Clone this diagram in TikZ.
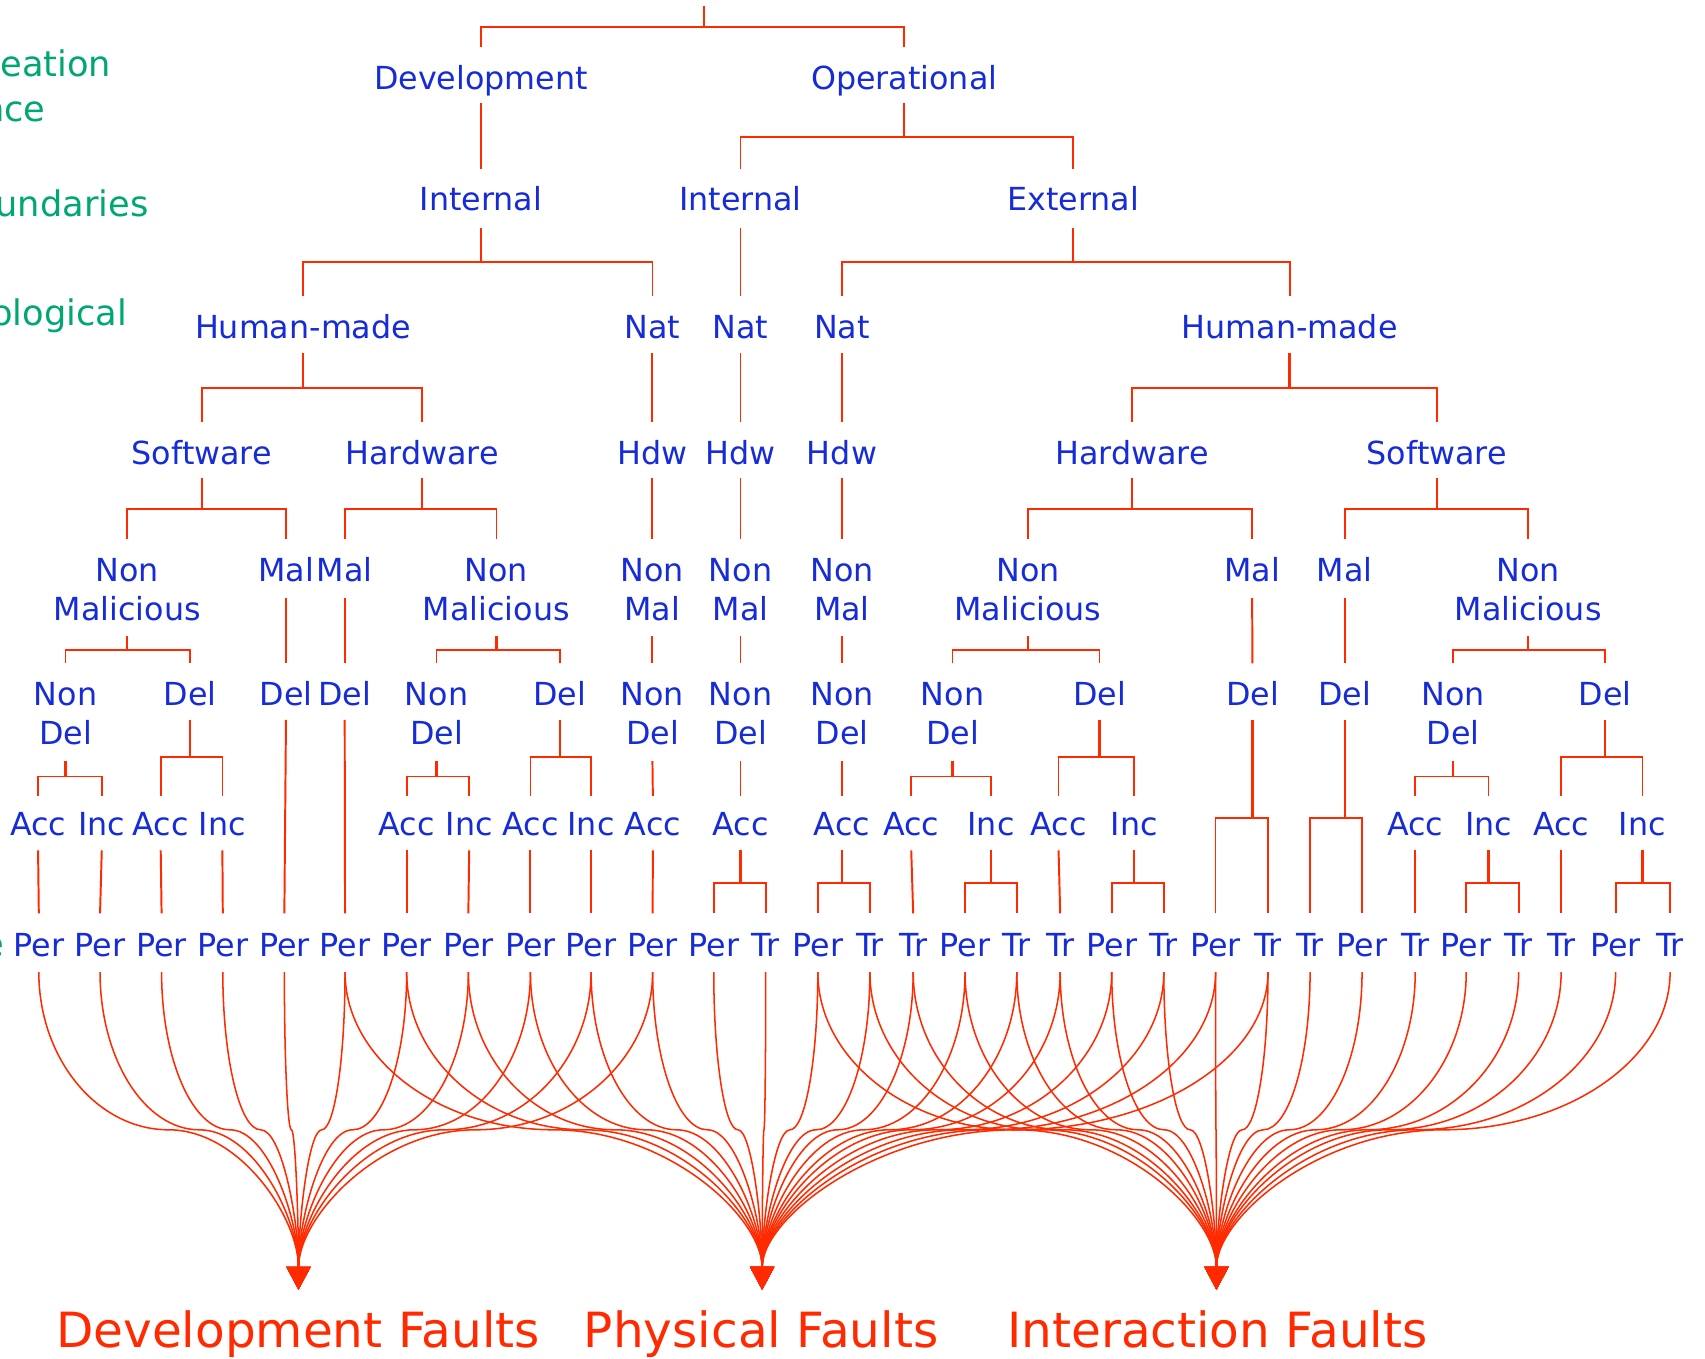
\documentclass[tikz,border=0pt]{standalone}
\usepackage{fontspec}
\setmainfont{DejaVu Sans}
\usetikzlibrary{calc,arrows.meta}
\definecolor{tblue}{RGB}{22,44,214}
\definecolor{tred}{RGB}{255,42,0}
\definecolor{tgreen}{RGB}{0,166,116}

% two stacked words, baseline on the first one
\newcommand\twoline[2]{\begin{tabular}[t]{@{}c@{}}#1\\#2\end{tabular}}
% parent, left child, right child, stem top y, bar y, branch bottom y
\newcommand\treefork[6]{%
  \draw[stem] (#1 |- 0,#4) -- (#1 |- 0,#5);
  \draw[branch] (#2 |- 0,#6) -- (#2 |- 0,#5) -- (#3 |- 0,#5) -- (#3 |- 0,#6);}
% parent, only child, top y, bottom y
\newcommand\treelink[4]{\draw[link] (#1 |- 0,#3) -- (#2 |- 0,#4);}
% leaf to fault class: vertical start, horizontal waist, vertical arrival
\newcommand\faultline[2]{%
  \draw[curve] let \p1=(#1 |- 0,894), \p2=(#2), \p3=(0,1039), \n2={(\x2-\x1)/2} in
    (\p1) .. controls (\x1,{\y1+0.55*(\y3-\y1)}) and ({\x1+0.45*\n2},\y3) .. ({\x1+\n2},\y3)
          .. controls ({\x1+1.55*\n2},\y3) and (\x2,{\y3+0.55*(\y2-\y3)}) .. (\p2);}

\begin{document}
\begin{tikzpicture}[x=0.5pt,y=-0.5pt,
  lab/.style={text=tblue,font=\fontsize{14.6}{18}\selectfont,anchor=base,inner sep=0pt},
  side/.style={text=tgreen,font=\fontsize{16.2}{19}\selectfont,anchor=base east,inner sep=0pt},
  result/.style={text=tred,font=\fontsize{22.3}{26}\selectfont,anchor=base,inner sep=0pt},
  stem/.style={draw=tred,line width=1.1pt},
  branch/.style={draw=tred,line width=0.8pt},
  link/.style={draw=tred,line width=0.9pt},
  curve/.style={draw=tred,line width=0.7pt,-{Triangle[length=10.5pt,width=11pt]}}]
\useasboundingbox (0,0) rectangle (1568,1249);
\clip (0,0) rectangle (1568,1249);
\fill[white] (0,0) rectangle (1568,1249);

% dimension captions on the left
\node[side] (c1) at (102.7,70.5) {eation};
\node[side] (c2) at (42.3,112) {nce};
\node[side] (c3) at (137,199) {undaries};
\node[side] (c4) at (117.4,299) {ological};
\node[side] (c5) at (4,880) {e};

% level 1
\coordinate (root) at (647.6,5.5);
\node[lab] (dev) at (442.4,82) {Development};
\node[lab] (op)  at (831.5,82) {Operational};
% level 2
\node[lab] (dint) at (442.4,194) {Internal};
\node[lab] (oint) at (681,194) {Internal};
\node[lab] (ext)  at (987,194) {External};
% level 3
\node[lab] (hm1)  at (278.7,311) {Human-made};
\node[lab] (nat1) at (600,311) {Nat};
\node[lab] (nat2) at (681,311) {Nat};
\node[lab] (nat3) at (774.3,311) {Nat};
\node[lab] (hm2)  at (1186,311) {Human-made};
% level 4
\node[lab] (sw1)  at (185.6,427) {Software};
\node[lab] (hw1)  at (388,427) {Hardware};
\node[lab] (hdw1) at (600,427) {Hdw};
\node[lab] (hdw2) at (681,427) {Hdw};
\node[lab] (hdw3) at (774.3,427) {Hdw};
\node[lab] (hw2)  at (1041,427) {Hardware};
\node[lab] (sw2)  at (1321.3,427) {Software};
% level 5
\node[lab] (nm1)  at (117,535) {\twoline{Non}{Malicious}};
\node[lab] (m1)   at (263,535) {Mal};
\node[lab] (m2)   at (317,535) {Mal};
\node[lab] (nm2)  at (456.5,535) {\twoline{Non}{Malicious}};
\node[lab] (nma1) at (600,535) {\twoline{Non}{Mal}};
\node[lab] (nma2) at (681,535) {\twoline{Non}{Mal}};
\node[lab] (nma3) at (774.3,535) {\twoline{Non}{Mal}};
\node[lab] (nm3)  at (945.4,535) {\twoline{Non}{Malicious}};
\node[lab] (m3)   at (1151.5,535) {Mal};
\node[lab] (m4)   at (1236.7,535) {Mal};
\node[lab] (nm4)  at (1405.3,535) {\twoline{Non}{Malicious}};
% level 6
\node[lab] (nd1) at (60.3,649) {\twoline{Non}{Del}};
\node[lab] (d1)  at (174.9,649) {Del};
\node[lab] (d2)  at (263,649) {Del};
\node[lab] (d3)  at (317,649) {Del};
\node[lab] (nd2) at (401.5,649) {\twoline{Non}{Del}};
\node[lab] (d4)  at (514.8,649) {Del};
\node[lab] (nd3) at (600,649) {\twoline{Non}{Del}};
\node[lab] (nd4) at (681,649) {\twoline{Non}{Del}};
\node[lab] (nd5) at (774.3,649) {\twoline{Non}{Del}};
\node[lab] (nd6) at (876,649) {\twoline{Non}{Del}};
\node[lab] (d5)  at (1011.1,649) {Del};
\node[lab] (d6)  at (1151.8,649) {Del};
\node[lab] (d7)  at (1236.7,649) {Del};
\node[lab] (nd7) at (1336.3,649) {\twoline{Non}{Del}};
\node[lab] (d8)  at (1476.2,649) {Del};
% level 7
\node[lab] (a1)  at (35,768) {Acc};
\node[lab] (i1)  at (93.6,768) {Inc};
\node[lab] (a2)  at (147.8,768) {Acc};
\node[lab] (i2)  at (204.5,768) {Inc};
\node[lab] (a3)  at (374,768) {Acc};
\node[lab] (i3)  at (431.5,768) {Inc};
\node[lab] (a4)  at (487.8,768) {Acc};
\node[lab] (i4)  at (543.6,768) {Inc};
\node[lab] (a5)  at (600.4,768) {Acc};
\node[lab] (a6)  at (681,768) {Acc};
\node[lab] (a7)  at (774.3,768) {Acc};
\node[lab] (a8)  at (838,768) {Acc};
\node[lab] (i5)  at (911.4,768) {Inc};
\node[lab] (a9)  at (973.5,768) {Acc};
\node[lab] (i6)  at (1043.1,768) {Inc};
\node[lab] (a10) at (1301.5,768) {Acc};
\node[lab] (i7)  at (1368.9,768) {Inc};
\node[lab] (a11) at (1435.7,768) {Acc};
\node[lab] (i8)  at (1510.4,768) {Inc};
% level 8: persistence leaves
\foreach \n/\x/\t in {1/35.7/Per,2/92/Per,3/148.6/Per,4/204.9/Per,5/261.5/Per,
  6/317.3/Per,7/374/Per,8/430.7/Per,9/487.8/Per,10/543.6/Per,11/600.2/Per,
  12/656.4/Per,13/704.2/Tr,14/752.1/Per,15/800/Tr,16/839.8/Tr,17/887.5/Per,
  18/935.1/Tr,19/975/Tr,20/1022.4/Per,21/1070.3/Tr,22/1117.9/Per,23/1166.1/Tr,
  24/1204.8/Tr,25/1252.6/Per,26/1301.5/Tr,27/1348.4/Per,28/1396.6/Tr,
  29/1435.7/Tr,30/1485.8/Per,31/1535.9/Tr}
  {\node[lab] (p\n) at (\x,880) {\t};}

% fault classes
\coordinate (devtip)  at (274.5,1186);
\coordinate (phystip) at (700.9,1186);
\coordinate (inttip)  at (1118.7,1186);
\node[result] (devf)  at (274,1239) {Development Faults};
\node[result] (physf) at (700,1239) {Physical Faults};
\node[result] (intf)  at (1119.5,1239) {Interaction Faults};

% tree connectors
\treefork{root}{dev}{op}{5.5}{24.5}{43}
\treelink{dev}{dint}{95}{155}
\treefork{op}{oint}{ext}{95}{126}{155}
\treefork{dint}{hm1}{nat1}{210}{241}{272}
\treelink{oint}{nat2}{210}{272}
\treefork{ext}{nat3}{hm2}{210}{241}{272}
\treefork{hm1}{sw1}{hw1}{325}{357}{388}
\treelink{nat1}{hdw1}{325}{388}
\treelink{nat2}{hdw2}{325}{388}
\treelink{nat3}{hdw3}{325}{388}
\treefork{hm2}{hw2}{sw2}{325}{357}{388}
\treefork{sw1}{nm1}{m1}{440}{468}{496}
\treefork{hw1}{m2}{nm2}{440}{468}{496}
\treelink{hdw1}{nma1}{440}{496}
\treelink{hdw2}{nma2}{440}{496}
\treelink{hdw3}{nma3}{440}{496}
\treefork{hw2}{nm3}{m3}{440}{468}{496}
\treefork{sw2}{m4}{nm4}{440}{468}{496}
\treefork{nm1}{nd1}{d1}{585}{598}{610}
\treelink{m1}{d2}{550}{610}
\treelink{m2}{d3}{550}{610}
\treefork{nm2}{nd2}{d4}{585}{598}{610}
\treelink{nma1}{nd3}{585}{610}
\treelink{nma2}{nd4}{585}{610}
\treelink{nma3}{nd5}{585}{610}
\treefork{nm3}{nd6}{d5}{585}{598}{610}
\treelink{m3}{d6}{550}{610}
\treelink{m4}{d7}{550}{610}
\treefork{nm4}{nd7}{d8}{585}{598}{610}
\treefork{nd1}{a1}{i1}{700}{714}{732}
\treefork{d1}{a2}{i2}{662}{696}{732}
\treefork{nd2}{a3}{i3}{700}{714}{732}
\treefork{d4}{a4}{i4}{662}{696}{732}
\treelink{nd3}{a5}{700}{732}
\treelink{nd4}{a6}{700}{732}
\treelink{nd5}{a7}{700}{732}
\treefork{nd6}{a8}{i5}{700}{714}{732}
\treefork{d5}{a9}{i6}{662}{696}{732}
\treefork{nd7}{a10}{i7}{700}{714}{732}
\treefork{d8}{a11}{i8}{662}{696}{732}
\treelink{a1}{p1}{782}{840}
\treelink{i1}{p2}{782}{840}
\treelink{a2}{p3}{782}{840}
\treelink{i2}{p4}{782}{840}
\treelink{d2}{p5}{662}{840}
\treelink{d3}{p6}{662}{840}
\treelink{a3}{p7}{782}{840}
\treelink{i3}{p8}{782}{840}
\treelink{a4}{p9}{782}{840}
\treelink{i4}{p10}{782}{840}
\treelink{a5}{p11}{782}{840}
\treefork{a6}{p12}{p13}{782}{812}{840}
\treefork{a7}{p14}{p15}{782}{812}{840}
\treelink{a8}{p16}{782}{840}
\treefork{i5}{p17}{p18}{782}{812}{840}
\treelink{a9}{p19}{782}{840}
\treefork{i6}{p20}{p21}{782}{812}{840}
\treefork{d6}{p22}{p23}{662}{752}{840}
\treefork{d7}{p24}{p25}{662}{752}{840}
\treelink{a10}{p26}{782}{840}
\treefork{i7}{p27}{p28}{782}{812}{840}
\treelink{a11}{p29}{782}{840}
\treefork{i8}{p30}{p31}{782}{812}{840}

% leaves gathered into the three fault classes
\foreach \k in {1,...,11} {\faultline{p\k}{devtip}}
\foreach \k in {6,...,23} {\faultline{p\k}{phystip}}
\foreach \k in {14,...,31} {\faultline{p\k}{inttip}}
\end{tikzpicture}
\end{document}
